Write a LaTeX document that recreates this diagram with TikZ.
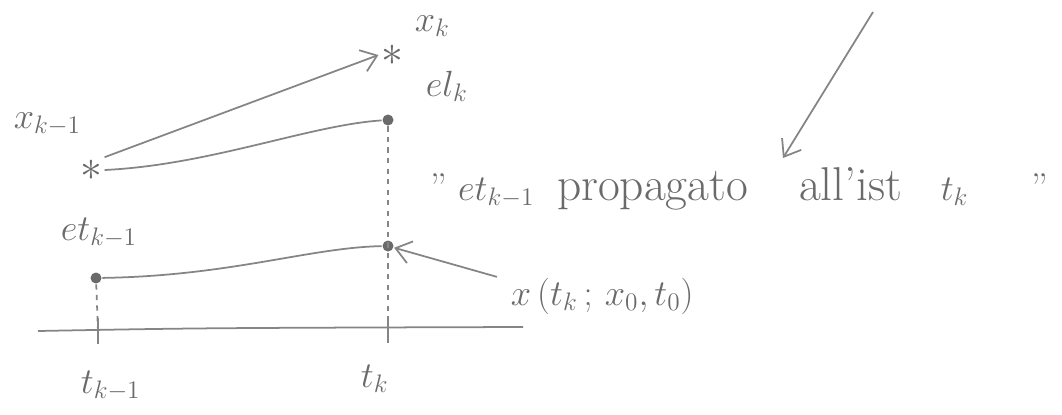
\documentclass[tikz,border=0pt]{standalone}
\usepackage{amsmath}
\usepackage{tikz}
\usetikzlibrary{arrows.meta,calc}
\usepackage{xcolor}
\definecolor{pencil}{gray}{0.52}

\tikzset{
  lbl/.style={anchor=base west,inner sep=0pt,text=pencil!80!black,font=\fontsize{22}{26}\selectfont},
  dotpt/.style={circle,fill=pencil!80!black,inner sep=0pt,minimum size=2.2mm},
  starpt/.style={inner sep=1pt,text=pencil!80!black,font=\fontsize{26}{26}\selectfont}
}
\newcommand{\bigword}[1]{{\fontsize{27}{30}\selectfont #1}}

\begin{document}
\begin{tikzpicture}[>={Straight Barb[length=3mm,width=4.5mm]},draw=pencil,line width=1pt]
      \useasboundingbox (0,0) rectangle (21.24,-8.28);
      % points
      \node[starpt] (xprev) at (1.82,-3.40) {$\ast$};
      \node[starpt] (xcur) at (7.84,-1.10) {$\ast$};
      \node[dotpt] (A) at (7.76,-2.40) {};
      \node[dotpt] (B) at (7.76,-4.92) {};
      \node[dotpt] (C) at (1.92,-5.56) {};
      \coordinate (ax0) at (0.76,-6.62);
      \coordinate (ax1) at (10.46,-6.54);
      \coordinate (tk0) at (1.96,-6.62);
      \coordinate (tk1) at (7.76,-6.56);
      \coordinate (top) at (17.46,-0.24);
      \coordinate (aim) at (15.66,-3.16);
      % labels
      \node[lbl] (xprevl) at (0.26,-2.56) {$x_{k-1}$};
      \node[lbl] (xcurl) at (8.28,-0.62) {$x_k$};
      \node[lbl] (elk) at (8.50,-1.92) {$el_k$};
      \node[lbl] (etprev) at (1.20,-4.80) {$et_{k-1}$};
      \node[lbl] (tprev) at (1.60,-7.86) {$t_{k-1}$};
      \node[lbl] (tcur) at (7.20,-7.74) {$t_k$};
      \node[lbl] (xsol) at (10.20,-6.10) {$x\,(t_k\,;\,x_0,t_0)$};
      \node[lbl] (note) at (8.60,-4.00) {''\hspace{6pt}$et_{k-1}$\hspace{13pt}\bigword{propagato}\hspace{29pt}\bigword{all'ist}\hspace{22pt}$t_k$\hspace{36pt}''};
      % axis
      \draw (ax0) .. controls (4,-6.56) .. (ax1);
      \draw ($(tk0)+(0,0.26)$) -- ($(tk0)+(0,-0.26)$);
      \draw ($(tk1)+(0,0.2)$) -- ($(tk1)+(0,-0.3)$);
      % dashed verticals
      \draw[dashed] (A) -- (tk1);
      \draw[dashed] (C) -- (tk0);
      % curves
      \draw (xprev.east) .. controls (4.2,-3.3) and (6.2,-2.5) .. (A);
      \draw (C) .. controls (4.6,-5.52) and (6.2,-4.95) .. (B);
      % arrows
      \draw[->] (xprev.north east) -- (xcur.west);
      \draw[->] (xsol.west) ++(-0.26,0.38) -- (B);
      \draw[->] (top) -- (aim);
\end{tikzpicture}
\end{document}
